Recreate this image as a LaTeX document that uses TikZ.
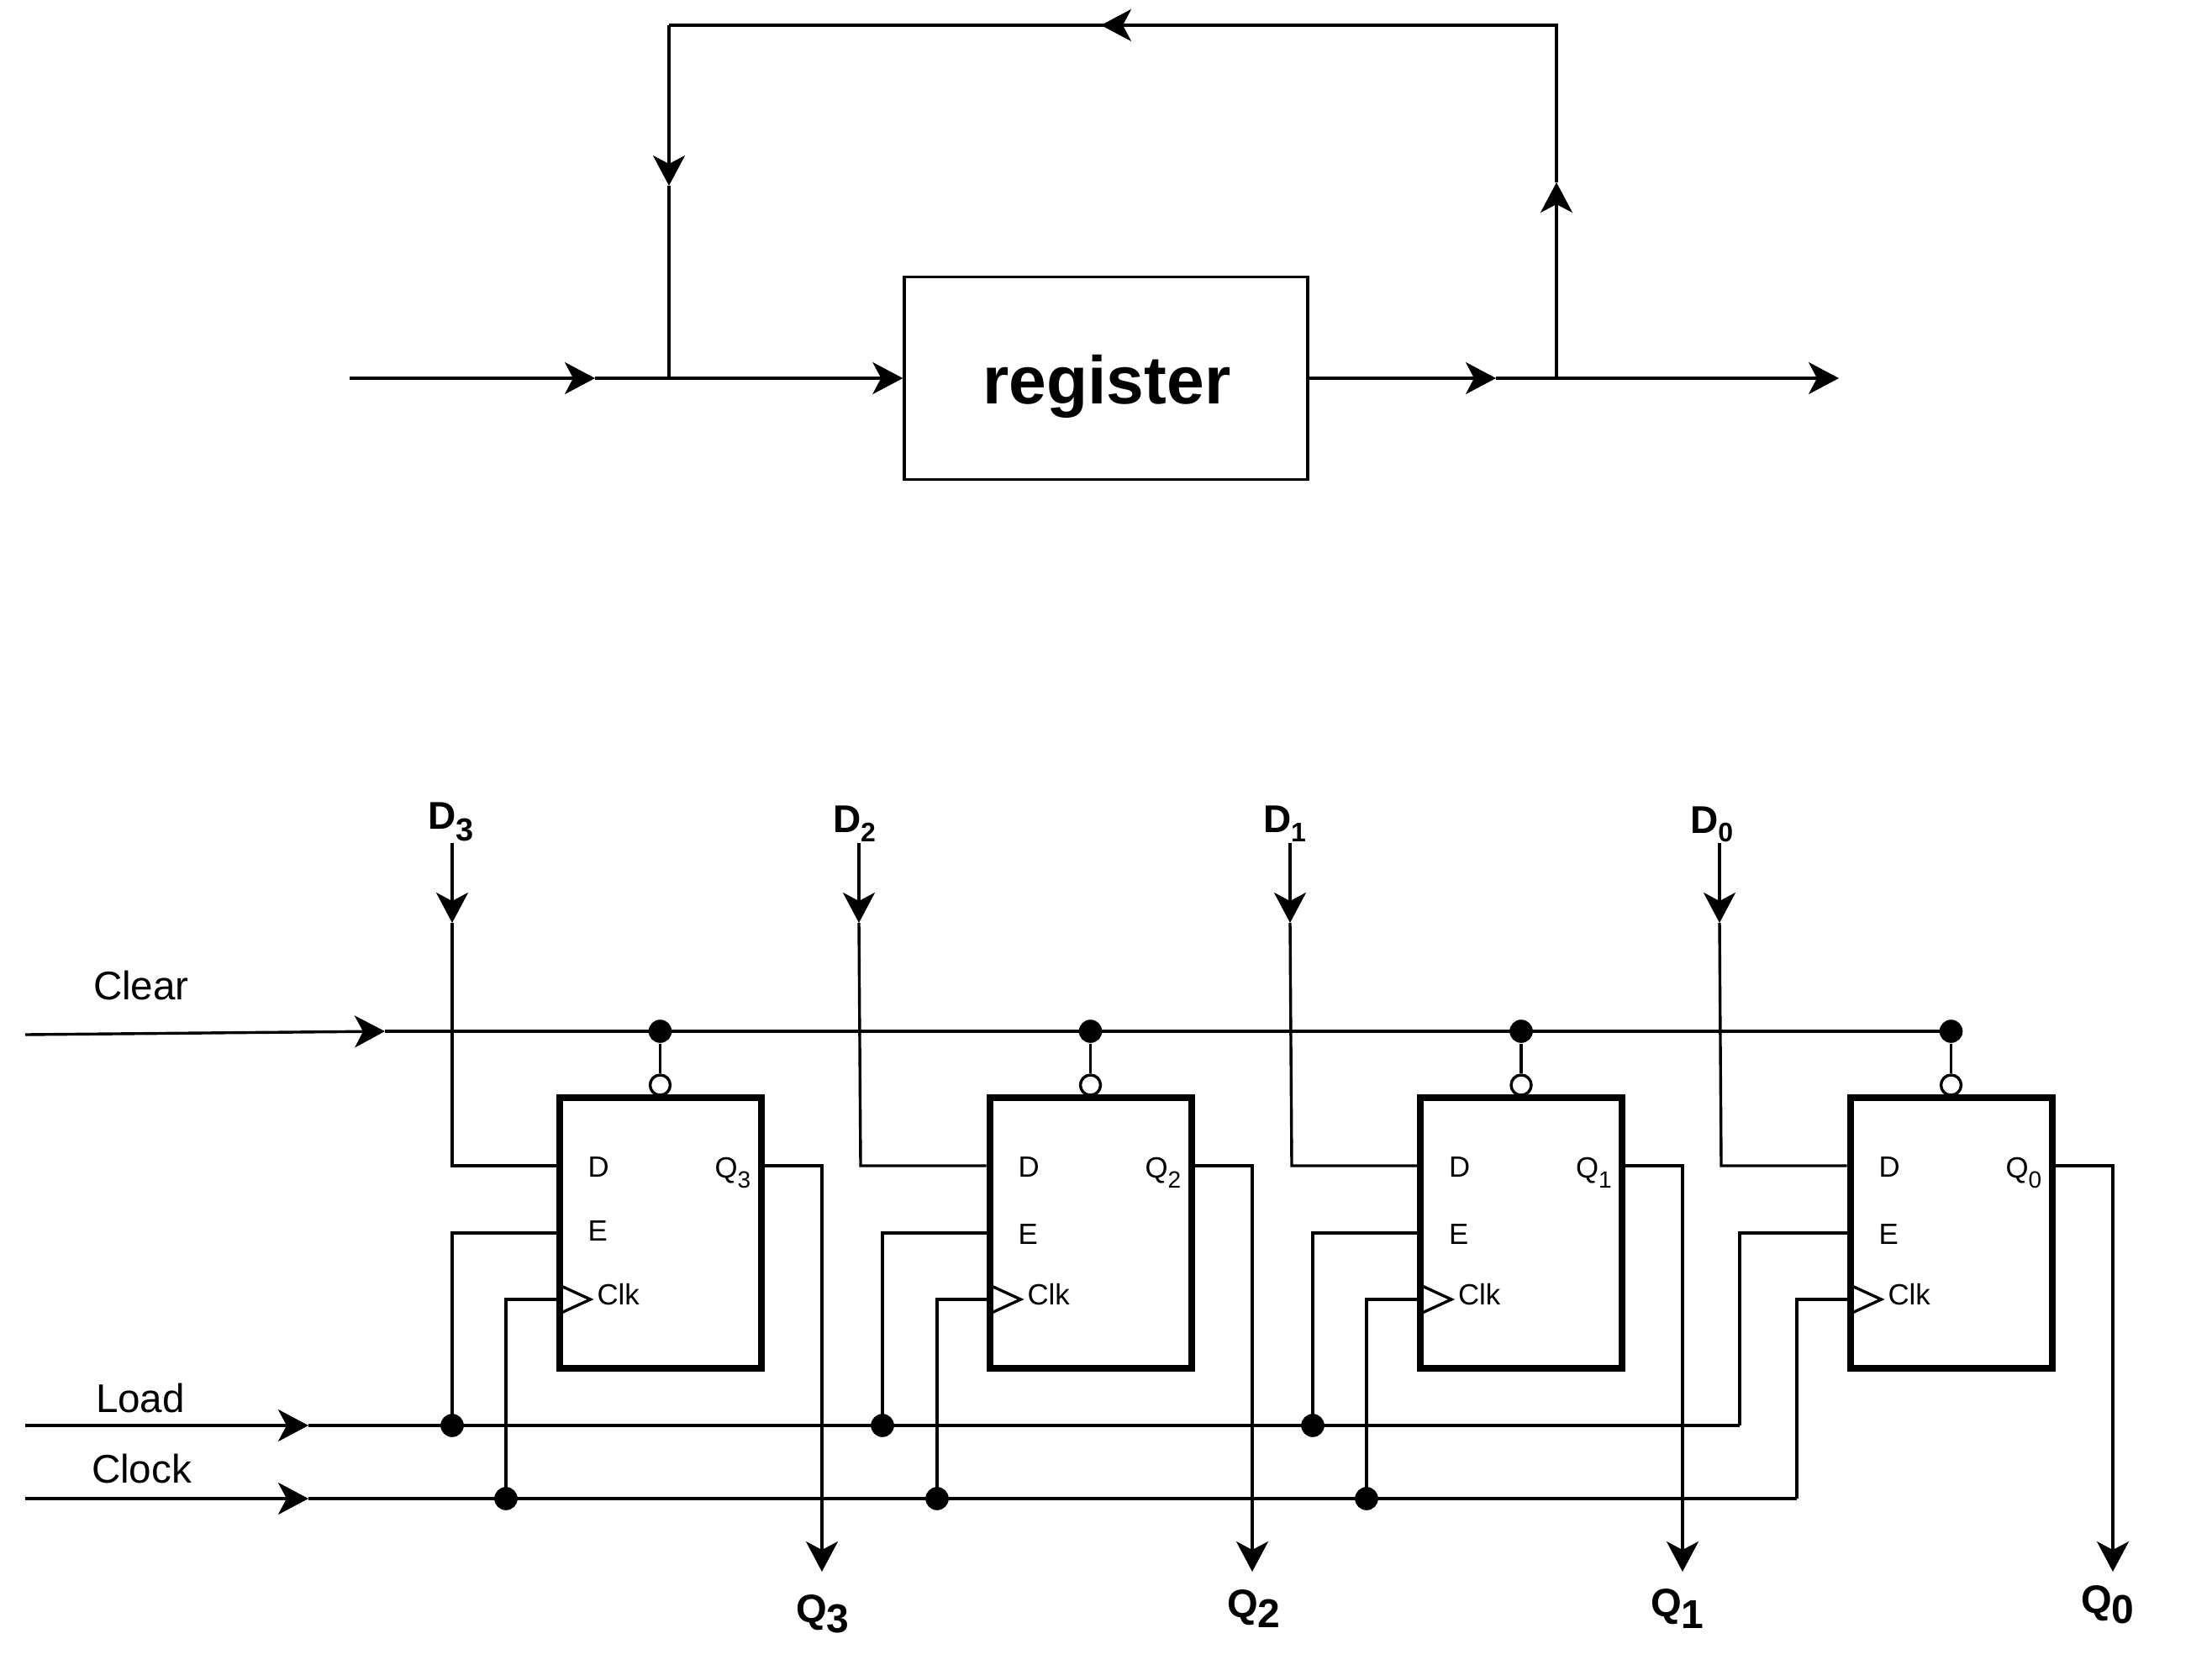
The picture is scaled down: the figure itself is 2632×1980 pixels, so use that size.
\documentclass[tikz,border=0pt]{standalone}
\usepackage{fontspec}
\setmainfont{Liberation Sans}
\usetikzlibrary{arrows.meta}
\newcommand{\sizedtext}[1]{\fontsize{#1}{#1}\selectfont}
\newcommand{\boldsub}[5]{{\bfseries\sizedtext{#5}#1\lower #3\hbox{\sizedtext{#4}#2}}}
\tikzset{
  x=0.25pt,y=-0.25pt,
  wire/.style={line width=0.85pt,line join=miter},
  arrowwire/.style={wire,-{Stealth[length=9pt,width=9.5pt,inset=2.5pt]}},
  bitbox/.style={draw,line width=2pt,minimum width=60pt,minimum height=80.5pt,inner sep=0pt},
  regbox/.style={draw,line width=0.85pt,minimum width=120pt,minimum height=60.25pt,inner sep=0pt},
  dot/.style={circle,fill=black,inner sep=0pt,minimum size=6.9pt},
  bubble/.style={circle,draw,fill=white,line width=0.85pt,inner sep=0pt,minimum size=6pt},
  lbl/.style={anchor=base west,inner sep=0pt,outer sep=0pt},
  smalllbl/.style={lbl,font=\sizedtext{8.7}},
  biglbl/.style={lbl,font=\sizedtext{11.9}},
}
\begin{document}
\begin{tikzpicture}
\useasboundingbox (0,0) rectangle (2632,1980);
% --- top diagram
\node[regbox] (reg) at (1316,450) {};
\node[anchor=base,inner sep=0pt,font=\bfseries\sizedtext{20.1}] (regtxt) at (1317,480) {register};
\coordinate (in) at (416,450);
\coordinate (inarr) at (708,450);
\coordinate (tapl) at (796,450);
\coordinate (topl) at (796,30);
\coordinate (larr) at (796,221);
\coordinate (outarr) at (1780,450);
\coordinate (tapr) at (1852,450);
\coordinate (topr) at (1852,30);
\coordinate (rarr) at (1852,217);
\coordinate (tarr) at (1310,30);
\coordinate (out) at (2188,450);
\draw[arrowwire] (in) -- (inarr);
\draw[wire] (inarr) -- (tapl);
\draw[arrowwire] (tapl) -- (tapl -| reg.west);
\draw[arrowwire] (reg.east) -- (outarr);
\draw[arrowwire] (outarr) -- (out);
\draw[arrowwire] (tapr) -- (rarr);
\draw[wire] (rarr) -- (topr) -- (tarr);
\draw[arrowwire] (topr) -- (tarr);
\draw[wire] (tarr) -- (topl);
\draw[arrowwire] (topl) -- (larr);
\draw[wire] (larr) -- (tapl);
% --- bus lines
\coordinate (clrs) at (30,1231);
\coordinate (clra) at (458,1227);
\coordinate (clre) at (2321,1227);
\coordinate (lds) at (30,1696);
\coordinate (lda) at (367,1696);
\coordinate (lde) at (2070,1696);
\coordinate (cks) at (30,1783);
\coordinate (cka) at (367,1783);
\coordinate (cke) at (2138,1783);
\draw[arrowwire] (clrs) -- (clra);
\draw[wire] (clra) -- (clre);
\draw[arrowwire] (lds) -- (lda);
\draw[wire] (lda) -- (lde);
\draw[arrowwire] (cks) -- (cka);
\draw[wire] (cka) -- (cke);
% --- bit cells
\foreach \i/\bc/\dt/\db/\ex/\cx/\qx/\eb in {3/785.5/538/538/538/602/978/1476,2/1297.5/1022/1024/1050/1115/1490/1480,1/1810/1535/1537/1562/1626/2002/1480,0/2321.5/2046/2048/2070/2138/2514/1480}{
  \node[bitbox] (b\i) at (\bc,1467) {};
  \coordinate (dtop\i) at (\dt,1003);
  \coordinate (darr\i) at (\dt,1098);
  \coordinate (dbot\i) at (\db,1387);
  \coordinate (etop\i) at (\ex,1467);
  \coordinate (etie\i) at (\ex,1696);
  \coordinate (ctop\i) at (\cx,1546);
  \coordinate (ctie\i) at (\cx,1783);
  \coordinate (qtop\i) at (\qx,1387);
  \coordinate (qend\i) at (\qx,1870);
  \draw[arrowwire] (dtop\i) -- (darr\i);
  \draw[wire] (darr\i) -- (dbot\i) -- (dbot\i -| b\i.west);
  \draw[wire] (etie\i) -- (etop\i) -- (etop\i -| b\i.west);
  \draw[wire] (ctie\i) -- (ctop\i) -- (ctop\i -| b\i.west);
  \draw[arrowwire] (qtop\i -| b\i.east) -- (qtop\i) -- (qend\i);
  \node[dot] (cdot\i) at (\bc,1227) {};
  \node[bubble] (inv\i) at (\bc,1291) {};
  \draw[wire] (cdot\i) -- (inv\i);
  \draw[wire] ({\bc-120},1529) -- ({\bc-83},1546) -- ({\bc-120},1563);
  \node[smalllbl] (ld\i) at ({\bc-86},1400) {D};
  \node[smalllbl] (le\i) at ({\bc-86},\eb) {E};
  \node[smalllbl] (lc\i) at ({\bc-75},1552) {Clk};
  \node[smalllbl] (lq\i) at ({\bc+65},1401) {Q\lower 3pt\hbox{\sizedtext{7}\i}};
}
\node[dot] (ed3) at (etie3) {};
\node[dot] (ed2) at (etie2) {};
\node[dot] (ed1) at (etie1) {};
\node[dot] (kd3) at (ctie3) {};
\node[dot] (kd2) at (ctie2) {};
\node[dot] (kd1) at (ctie1) {};
% --- labels
\node[biglbl] (lclear) at (111,1189) {Clear};
\node[biglbl] (lload) at (114,1680) {Load};
\node[biglbl] (lclock) at (109,1764) {Clock};
\node[lbl] (nd3) at (509,986) {\boldsub{D}{3}{3.5pt}{9.5}{11.5}};
\node[lbl] (nd2) at (991,990) {\boldsub{D}{2}{2.8pt}{8}{11.5}};
\node[lbl] (nd1) at (1503,990) {\boldsub{D}{1}{2.8pt}{8}{11.5}};
\node[lbl] (nd0) at (2011,991) {\boldsub{D}{0}{2.5pt}{8}{11.5}};
\node[lbl] (nq3) at (947,1930) {\boldsub{Q}{3}{3pt}{12}{11.8}};
\node[lbl] (nq2) at (1460,1924) {\boldsub{Q}{2}{3pt}{12}{11.8}};
\node[lbl] (nq1) at (1964,1923) {\boldsub{Q}{1}{3.5pt}{12}{11.8}};
\node[lbl] (nq0) at (2476,1919) {\boldsub{Q}{0}{3pt}{12}{11.8}};
\end{tikzpicture}
\end{document}
